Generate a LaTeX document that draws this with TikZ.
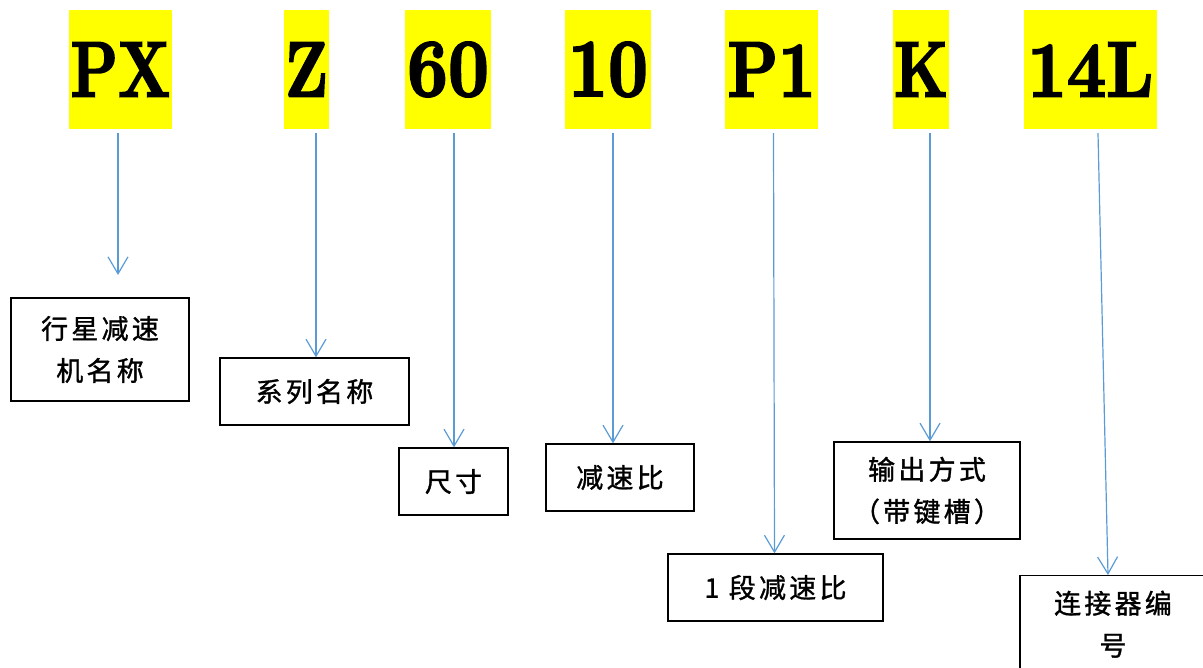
\documentclass[tikz,border=0pt]{standalone}
\usepackage{fontspec}
\usetikzlibrary{arrows.meta}
\newfontfamily\cjk[LetterSpace=12,FakeBold=1.2]{Noto Sans CJK SC}
\newfontfamily\heavy[FakeBold=2.5]{Latin Modern Roman}
\definecolor{arrblue}{HTML}{5B9BD5}
\definecolor{hlyellow}{HTML}{FFFF00}
\newcommand{\bigcode}[2]{\resizebox{#1}{54pt}{\heavy\bfseries #2}}
\tikzset{
  ybox/.style={fill=hlyellow, inner sep=0pt, minimum height=119pt},
  dbox/.style={draw=black, line width=1.3pt, fill=white, inner sep=0pt, align=center,
    font=\cjk\fontsize{27}{42}\selectfont},
  arr/.style={draw=arrblue, line width=1.2pt, -{Straight Barb[length=17pt,width=20pt]}}
}
\begin{document}
\begin{tikzpicture}[x=1pt,y=-1pt]
\useasboundingbox (0,0) rectangle (1203,668);
\clip (0,0) rectangle (1203,668);
% code letters
\node[ybox, minimum width=103pt] (yPX) at (120.5,69.5) {\bigcode{100pt}{PX}};
\node[ybox, minimum width=45pt] (yZ) at (306.5,69.5) {\bigcode{43pt}{Z}};
\node[ybox, minimum width=86pt] (y60) at (448,69.5) {\bigcode{82pt}{60}};
\node[ybox, minimum width=86pt] (y10) at (608,69.5) {\bigcode{80pt}{10}};
\node[ybox, minimum width=93pt] (yP1) at (771.5,69.5) {\bigcode{88pt}{P1}};
\node[ybox, minimum width=56pt] (yK) at (921,69.5) {\bigcode{54pt}{K}};
\node[ybox, minimum width=133pt] (y14L) at (1090.5,69.5) {\bigcode{126pt}{14L}};
% description boxes
\node[dbox, minimum width=178pt, minimum height=103pt] (bPX) at (100,349.5) {行星减速\\机名称};
\node[dbox, minimum width=189pt, minimum height=67pt] (bZ) at (314.5,391.5) {系列名称};
\node[dbox, minimum width=109pt, minimum height=67pt] (b60) at (453.5,481.5) {尺寸};
\node[dbox, minimum width=148pt, minimum height=67pt] (b10) at (620,477.5) {减速比};
\node[dbox, minimum width=215pt, minimum height=67pt] (bP1) at (775.5,587.5) {1 段减速比};
\node[dbox, minimum width=186pt, minimum height=97pt] (bK) at (927,490.5) {输出方式\\（带键槽）};
\node[dbox, minimum width=186pt, minimum height=97pt, anchor=north] (b14L) at (1113,575) {连接器编\\号};
% connectors
\coordinate (ePX) at (118,275);
\draw[arr] ([xshift=-2.5pt,yshift=-4pt]yPX.south) -- (ePX);
\draw[arr] ([xshift=9.5pt,yshift=-4pt]yZ.south) -- ([xshift=1.5pt]bZ.north);
\draw[arr] ([xshift=6pt,yshift=-4pt]y60.south) -- ([xshift=0.5pt]b60.north);
\draw[arr] ([xshift=5pt,yshift=-4pt]y10.south) -- ([xshift=-7pt]b10.north);
\draw[arr] ([xshift=2pt,yshift=-4pt]yP1.south) -- ([xshift=-1pt]bP1.north);
\draw[arr] ([xshift=9pt,yshift=-4pt]yK.south) -- ([xshift=3pt]bK.north);
\draw[arr] ([xshift=7.5pt,yshift=-4pt]y14L.south) -- ([xshift=-5pt]b14L.north);
\end{tikzpicture}
\end{document}
